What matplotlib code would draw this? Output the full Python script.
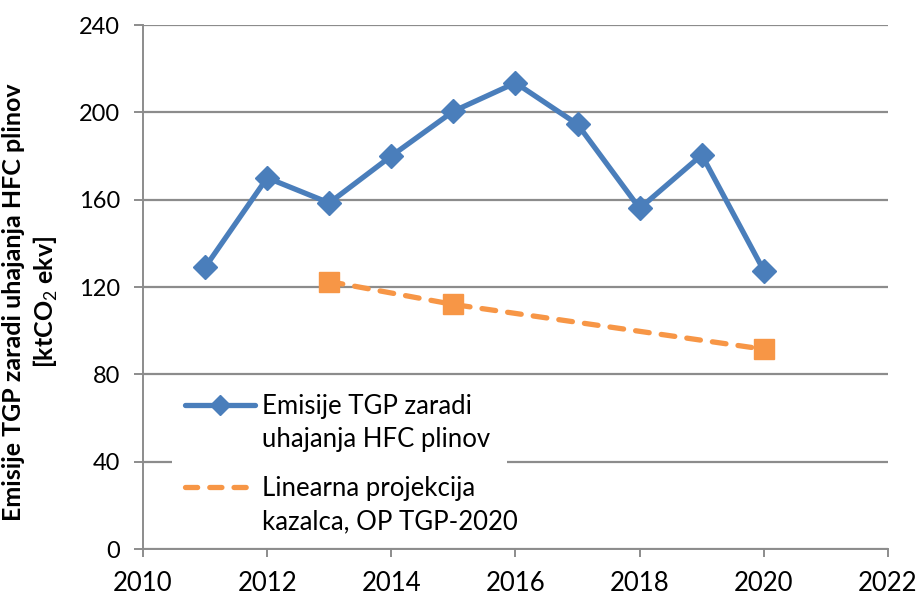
import matplotlib
matplotlib.use("Agg")
import matplotlib.pyplot as plt
from matplotlib import font_manager as fm
from matplotlib.lines import Line2D
from matplotlib.patches import Rectangle

years_em = [2011, 2012, 2013, 2014, 2015, 2016, 2017, 2018, 2019, 2020]
emisije = [129, 170, 158.5, 180, 200.5, 213.5, 194.5, 156, 180.5, 127.5]
years_proj = [2013, 2015, 2020]
projekcija = [122.5, 112, 91.5]
xticks = [2010, 2012, 2014, 2016, 2018, 2020, 2022]
yticks = [0, 40, 80, 120, 160, 200, 240]
label_em = "Emisije TGP zaradi\nuhajanja HFC plinov"
label_proj = "Linearna projekcija\nkazalca, OP TGP-2020"
ylabel = "Emisije TGP zaradi uhajanja HFC plinov\n[ktCO$_2$ ekv]"

names = {f.name for f in fm.fontManager.ttflist}
base = "Lato" if "Lato" in names else "DejaVu Sans"
plt.rcParams['font.family'] = [base, 'DejaVu Sans']
plt.rcParams['mathtext.fontset'] = 'custom'
plt.rcParams['mathtext.rm'] = base
plt.rcParams['mathtext.bf'] = base + ':bold'

W, H = 920, 595
fig = plt.figure(figsize=(W / 100, H / 100), dpi=100)
L, R, B, T = 143, 888, 549, 25
ax = fig.add_axes([L / W, 1 - B / H, (R - L) / W, (B - T) / H])

def axc(px, py):
    return ((px - L) / (R - L), (B - py) / (B - T))

blue = "#4a7ebb"
orange = "#f79646"
ax.plot(years_em, emisije, color=blue, lw=3.8, marker='D', ms=12, zorder=3)
ax.plot(years_proj, projekcija, color=orange, lw=3.8, ls=(0, (2.6, 2.3)),
        dash_capstyle='round', marker='s', ms=14, zorder=3)

ax.set_xlim(2010, 2022)
ax.set_ylim(0, 240)
ax.set_xticks(xticks)
ax.set_yticks(yticks)
ax.grid(axis='y', color='#8c8c8c', lw=1.6)
ax.set_axisbelow(True)
for s in ['top', 'right']:
    ax.spines[s].set_visible(False)
for s in ['left', 'bottom']:
    ax.spines[s].set_color('#8c8c8c')
    ax.spines[s].set_linewidth(1.4)
ax.tick_params(axis='y', color='#8c8c8c', width=1.4, length=6.5, labelsize=17, pad=10)
ax.tick_params(axis='x', color='#8c8c8c', width=1.4, length=6, labelsize=18.5, pad=10)

fig.text(31 / W, 1 - 302 / H, ylabel, rotation=90, ha='center', va='center',
         fontsize=18, fontweight='bold', linespacing=1.3)

# legend (manual, Excel-style: handle aligned with first text line)
x0, y0 = axc(172, 535)
x1, y1 = axc(507, 380)
ax.add_patch(Rectangle((x0, y0), x1 - x0, y1 - y0, transform=ax.transAxes,
                       facecolor='white', edgecolor='none', zorder=4))
lfs = 18.5
for py, color, style, mk, lab in [(405, blue, '-', 'D', label_em),
                                  (487, orange, (0, (2.3, 2.3)), None, label_proj)]:
    xa, ya = axc(185, py)
    xb, _ = axc(255, py)
    ax.add_line(Line2D([xa, xb], [ya, ya], transform=ax.transAxes, color=color,
                       lw=3.8, ls=style, dash_capstyle='round',
                       solid_capstyle='round', zorder=5))
    if mk:
        xm, _ = axc(220, py)
        ax.add_line(Line2D([xm], [ya], transform=ax.transAxes, color=color,
                           marker=mk, ms=10, lw=0, zorder=6))
    xt, yt = axc(262, py - 11)
    ax.text(xt, yt, lab, transform=ax.transAxes, ha='left', va='top',
            fontsize=lfs, linespacing=1.42, zorder=6)

fig.savefig("out.png", dpi=100)
